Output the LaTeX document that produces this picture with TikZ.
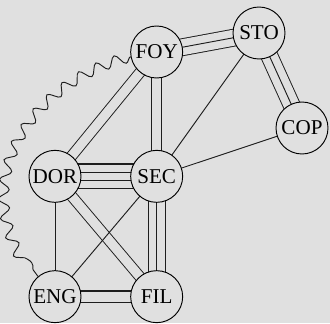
\documentclass[tikz,border=0pt]{standalone}
\usepackage{fontspec}
\setmainfont{Liberation Serif}
\usetikzlibrary{decorations.pathmorphing}
\definecolor{cBack}{HTML}{E0E0E0}
\definecolor{cLine}{HTML}{1E1E1E}
\pgfdeclarelayer{edgelayer}
\pgfsetlayers{edgelayer,main}
\tikzset{
  town/.style={
    circle, draw=black, fill=cBack, line width=0.8pt,
    minimum size=1.56cm, inner sep=0pt,
    font=\fontsize{18}{21}\selectfont,
  },
  oneline/.style={draw=cLine, line width=0.8pt},
  twoline/.style={draw=cLine, line width=0.8pt, double=cBack, double distance=8pt},
  threeline/.style={draw=cLine, line width=0.8pt, double=cBack, double distance=13.6pt},
  fourouter/.style={draw=cLine, line width=1pt, double=cBack, double distance=20.1pt},
  fourinner/.style={draw=cLine, line width=1pt, double=cBack, double distance=6pt},
  wideline/.style={draw=cLine, line width=1.2pt, double=cBack, double distance=8.4pt},
  wavy/.style={draw=cLine, line width=0.8pt,
    decorate, decoration={snake, segment length=0.57cm, amplitude=0.16cm}},
}
\begin{document}
\begin{tikzpicture}

  % background
  \useasboundingbox (0,0) rectangle (9.9,9.69);
  \begin{pgfonlayer}{edgelayer}
    \fill[cBack] (0,0) rectangle (9.9,9.69);
  \end{pgfonlayer}

  % towns
  \node[town] (FOY) at (4.70,8.13) {FOY};
  \node[town] (STO) at (7.77,8.70) {STO};
  \node[town] (COP) at (9.06,5.85) {COP};
  \node[town] (DOR) at (1.65,4.40) {DOR};
  \node[town] (SEC) at (4.70,4.40) {SEC};
  \node[town] (ENG) at (1.65,0.79) {ENG};
  \node[town] (FIL) at (4.70,0.79) {FIL};

  \begin{pgfonlayer}{edgelayer}
    % triple links
    \draw[threeline] (FOY.center) -- (STO.center);
    \draw[oneline] (FOY.center) -- (STO.center);
    \draw[threeline] (STO.center) -- (COP.center);
    \draw[oneline] (STO.center) -- (COP.center);
    \draw[threeline] (SEC.center) -- (FIL.center);
    \draw[oneline] (SEC.center) -- (FIL.center);

    % four links
    \draw[fourouter] (DOR.center) -- (SEC.center);
    \draw[fourinner] (DOR.center) -- (SEC.center);

    % double links
    \draw[twoline] (FOY.center) -- (SEC.center);
    \draw[twoline] (FOY.center) -- (DOR.center);
    \draw[twoline] (DOR.center) -- (FIL.center);
    \draw[wideline] (ENG.center) -- (FIL.center);

    % single links
    \draw[oneline] (STO.center) -- (SEC.center);
    \draw[oneline] (COP.center) -- (SEC.center);
    \draw[oneline] (DOR.center) -- (ENG.center);
    \draw[oneline] (SEC.center) -- (ENG.center);

    % wavy link
    \draw[wavy] (FOY.190) .. controls +(195:2.88) and +(127:3.63) .. (ENG.130);
  \end{pgfonlayer}

\end{tikzpicture}
\end{document}
